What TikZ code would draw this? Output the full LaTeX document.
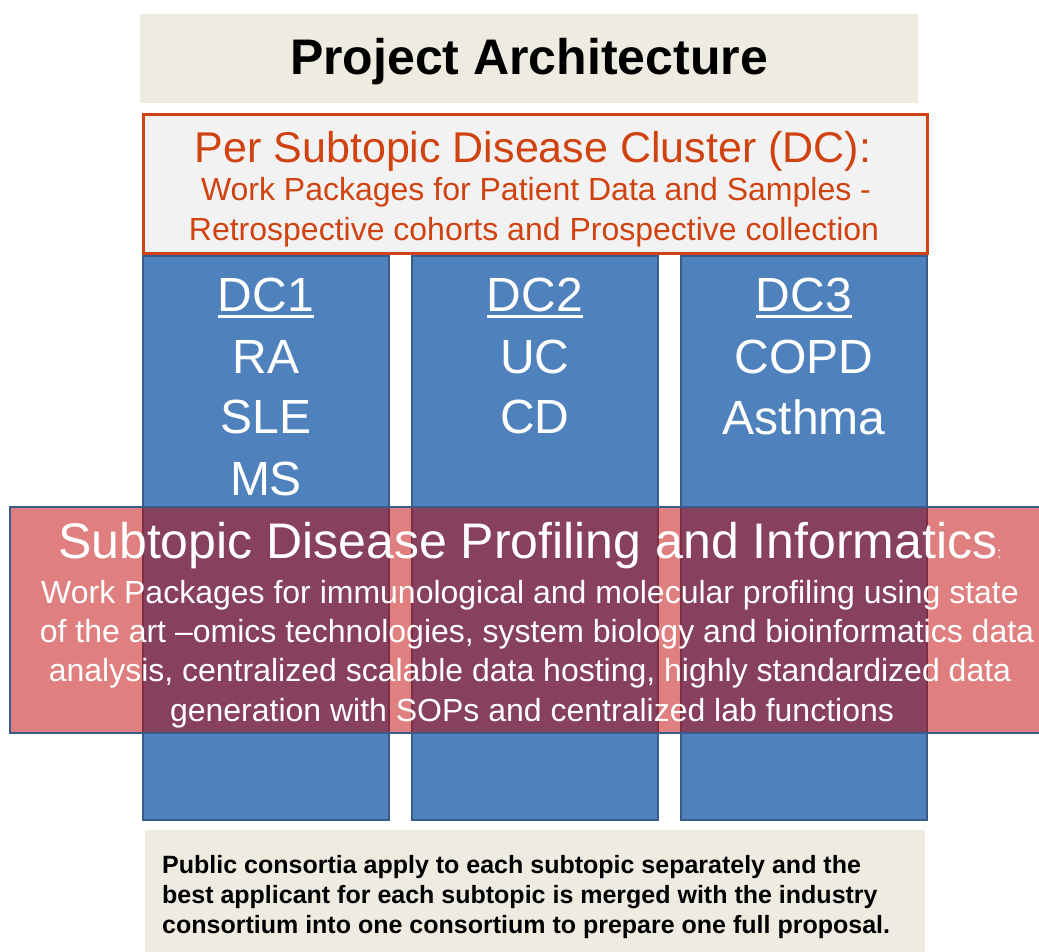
\documentclass[tikz,border=0pt]{standalone}
\usepackage{fontspec}
\setmainfont{Liberation Sans}
\definecolor{paper}{RGB}{238,236,225}
\definecolor{clusterred}{RGB}{208,66,16}
\definecolor{clusterfill}{RGB}{242,242,242}
\definecolor{colblue}{RGB}{79,129,189}
\definecolor{colline}{RGB}{56,93,138}
\definecolor{profred}{RGB}{191,0,0}
\newcommand{\dcul}[1]{\setbox0\hbox{#1}\leavevmode\rlap{\copy0}\rule[-6pt]{\wd0}{3pt}}
\newcommand{\fs}[1]{\fontsize{#1}{#1}\selectfont}
\begin{document}
\begin{tikzpicture}[x=1pt, y=-1pt,
    banner/.style ={rectangle, fill=paper, inner sep=0pt},
    cluster/.style ={rectangle, draw=clusterred, line width=3pt, fill=clusterfill, inner sep=0pt},
    column/.style ={rectangle, draw=colline, line width=2.5pt, fill=colblue, inner sep=0pt,
                    minimum width=246pt, minimum height=564pt},
    profiling/.style ={rectangle, draw=colline, line width=2.5pt, fill=profred, fill opacity=0.5,
                       text opacity=1, inner sep=0pt},
    clustertext/.style ={text=clusterred, inner sep=0pt, font=\fs{32}},
    coltext/.style ={text=white, inner sep=0pt, font=\fs{48}},
    proftext/.style ={text=white, inner sep=0pt, font=\fs{32}}]
   \useasboundingbox (0,0) rectangle (1039,951);

   \node[banner, minimum width=778pt, minimum height=89pt] (title) at (529,58.5) {};
   \node[inner sep=0pt, font=\fs{50}\bfseries] (titletext) at (529,62) {Project Architecture};

   \node[cluster, minimum width=784pt, minimum height=139pt] (dc) at (535,183.5) {};
   \node[text=clusterred, inner sep=0pt, font=\fs{43}] (dchead) at (533,151) {Per Subtopic Disease Cluster (DC):};
   \node[clustertext] (dcline1) at (536,192) {Work Packages for Patient Data and Samples -};
   \node[clustertext] (dcline2) at (534,232) {Retrospective cohorts and Prospective collection};

   \node[column] (C1) at (266,538) {};
   \node[column] (C2) at (535,538) {};
   \node[column] (C3) at (804,538) {};

   \node[coltext] (C1a) at (266,298) {\dcul{DC1}};
   \node[coltext] (C1b) at (266,357) {RA};
   \node[coltext] (C1c) at (266,417) {SLE};
   \node[coltext] (C1d) at (266,479) {MS};
   \node[coltext] (C2a) at (535,298) {\dcul{DC2}};
   \node[coltext] (C2b) at (535,357) {UC};
   \node[coltext] (C2c) at (535,417) {CD};
   \node[coltext] (C3a) at (804,298) {\dcul{DC3}};
   \node[coltext] (C3b) at (804,357) {COPD};
   \node[coltext] (C3c) at (804,417) {Asthma};

   \node[profiling, minimum width=1040pt, minimum height=226pt] (prof) at (530,620) {};
   \node[text=white, inner sep=0pt, font=\fs{50}] (profhead) at (530,546)
        {Subtopic Disease Profiling and Informatics{\fs{16}:}};
   \node[proftext] (prof1) at (530,595) {Work Packages for immunological and molecular profiling using state};
   \node[proftext] (prof2) at (537,634) {of the art --omics technologies, system biology and bioinformatics data};
   \node[proftext] (prof3) at (530,673) {analysis, centralized scalable data hosting, highly standardized data};
   \node[proftext] (prof4) at (532,713) {generation with SOPs and centralized lab functions};

   \node[banner, minimum width=780pt, minimum height=130pt] (note) at (535,895) {};
   \node[anchor=west, align=left, inner sep=0pt, font=\bfseries\fontsize{25}{30}\selectfont] (notetext) at (162,897)
        {Public consortia apply to each subtopic separately and the\\
         best applicant for each subtopic is merged with the industry\\
         consortium into one consortium to prepare one full proposal.};
\end{tikzpicture}
\end{document}
